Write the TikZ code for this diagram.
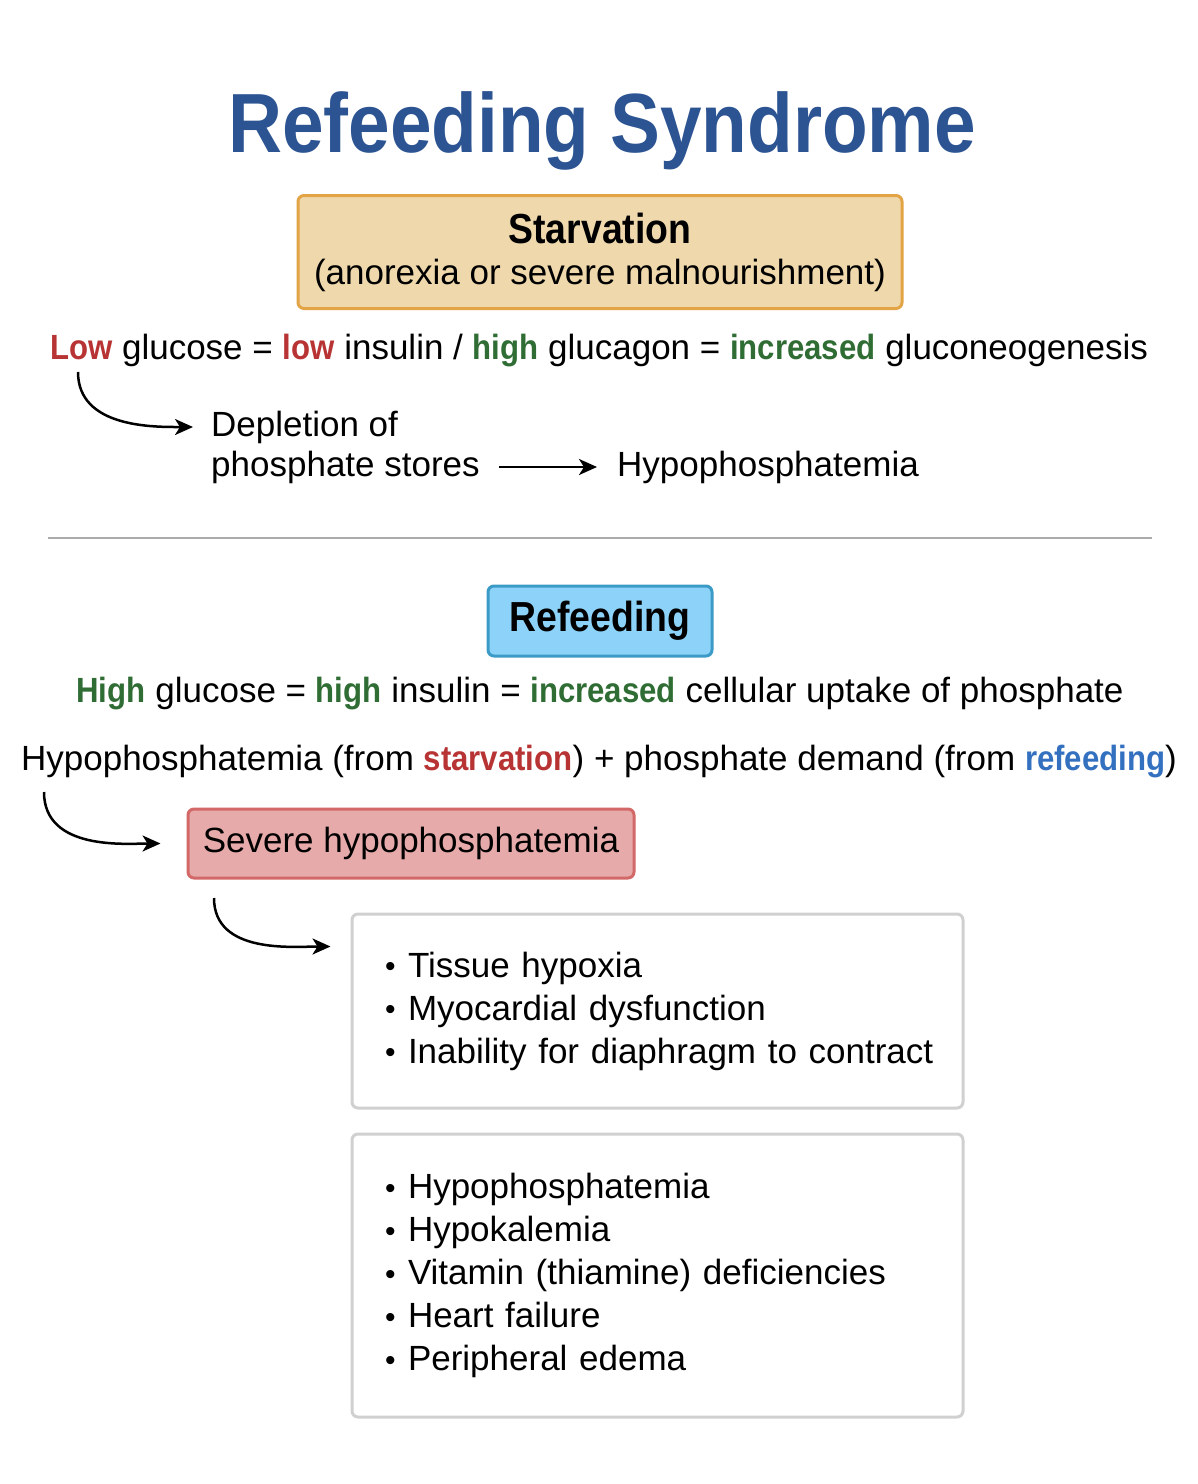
\documentclass[tikz,border=0pt]{standalone}
\usepackage{fontspec}
\setmainfont{Liberation Sans}[BoldFeatures={FakeStretch=0.89}]
\usetikzlibrary{arrows.meta,calc}
\definecolor{titleblue}{HTML}{2C5492}
\definecolor{txred}{HTML}{B83434}
\definecolor{txgreen}{HTML}{2F6D34}
\definecolor{txblue}{HTML}{3370BF}
\definecolor{starfill}{HTML}{EED8AC}
\definecolor{stardraw}{HTML}{E3A445}
\definecolor{reffill}{HTML}{8DD3F9}
\definecolor{refdraw}{HTML}{3B9BC6}
\definecolor{sevfill}{HTML}{E5AAA9}
\definecolor{sevdraw}{HTML}{D36868}
\definecolor{boxgray}{HTML}{D0D0D0}
\definecolor{sepgray}{HTML}{ABABAB}
\newcommand\Rd[1]{\textcolor{txred}{\textbf{#1}}}
\newcommand\Gr[1]{\textcolor{txgreen}{\textbf{#1}}}
\newcommand\Bl[1]{\textcolor{txblue}{\textbf{#1}}}
\newcommand\bul{\makebox[23pt][l]{\raisebox{0.5pt}{\fontsize{30}{0}\selectfont •}}}
\newcommand\itm[1]{\mbox{\bul #1}}
\begin{document}
\begin{tikzpicture}[x=1pt,y=-1pt,
  body/.style={font=\fontsize{35}{41}\selectfont, inner sep=0pt, text height=25pt, text depth=7pt},
  conn/.style={-{Stealth[length=18pt,width=16pt,inset=5pt]}, line width=2.5pt},
  colbox/.style={line width=3pt, rounded corners=6pt, align=center},
  starbox/.style={colbox, draw=stardraw, fill=starfill, minimum width=604pt, minimum height=113pt, font=\fontsize{35}{41}\selectfont},
  refbox/.style={colbox, draw=refdraw, fill=reffill, minimum width=224pt, minimum height=70pt, font=\fontsize{42}{42}\selectfont\bfseries},
  sevbox/.style={colbox, draw=sevdraw, fill=sevfill, minimum width=446pt, minimum height=69pt, font=\fontsize{35}{41}\selectfont},
  listbox/.style={draw=boxgray, line width=3pt, rounded corners=6pt, fill=white, text width=545pt, inner xsep=33pt, align=left, font=\fontsize{35}{43}\selectfont}
]
\fill[white] (0,0) rectangle (1198,1484);
\useasboundingbox (0,0) rectangle (1198,1484);

\node[font=\fontsize{84}{84}\selectfont\bfseries, text=titleblue, anchor=base] (title) at (602,152) {Refeeding Syndrome};

\node[starbox] (starv) at (600,252) {{\fontsize{42}{41}\selectfont\bfseries Starvation}\\(anorexia or severe malnourishment)};

\node[body, anchor=base] (l1) at (599,359) {\Rd{Low} glucose = \Rd{low} insulin / \Gr{high} glucagon = \Gr{increased} gluconeogenesis};
\coordinate (a1s) at (78,372);
\node[body, anchor=base west] (dep1) at (211,436) {Depletion of};
\node[body, anchor=base west] (dep2) at (211,476) {phosphate stores};
\node[body, anchor=base west] (hyp) at (617,476) {Hypophosphatemia};
\draw[conn, shorten >=18pt] (a1s) to[out=-90,in=180] (dep1.west);
\draw[conn, shorten <=19pt, shorten >=20pt] (dep2.east) -- (hyp.west);

\coordinate (sepL) at (48,538);
\coordinate (sepR) at (1152,538);
\draw[sepgray, line width=2pt] (sepL) -- (sepR);

\node[refbox] (refd) at (600,621) {Refeeding};

\node[body, anchor=base] (l2) at (600,702) {\Gr{High} glucose = \Gr{high} insulin = \Gr{increased} cellular uptake of phosphate};
\node[body, anchor=base] (l3) at (599,770) {Hypophosphatemia (from \Rd{starvation}) + phosphate demand (from \Bl{refeeding})};

\node[sevbox] (sev) at (411,843.5) {Severe hypophosphatemia};
\coordinate (a2s) at (44,792);
\draw[conn, shorten >=26pt] (a2s) to[out=-90,in=180] (sev.west);

\node[listbox, minimum height=194pt] (eff) at (657.5,1011) {\itm{Tissue hypoxia}\\\itm{Myocardial dysfunction}\\\itm{Inability for diaphragm to contract}};
\coordinate (a3s) at (214,898);
\draw[conn, shorten >=20pt] (a3s) to[out=-90,in=180] ($(eff.north west)+(0,34)$);

\node[listbox, minimum height=283pt] (comp) at (657.5,1275.5) {\itm{Hypophosphatemia}\\\itm{Hypokalemia}\\\itm{Vitamin (thiamine) deficiencies}\\\itm{Heart failure}\\\itm{Peripheral edema}};
\end{tikzpicture}
\end{document}
